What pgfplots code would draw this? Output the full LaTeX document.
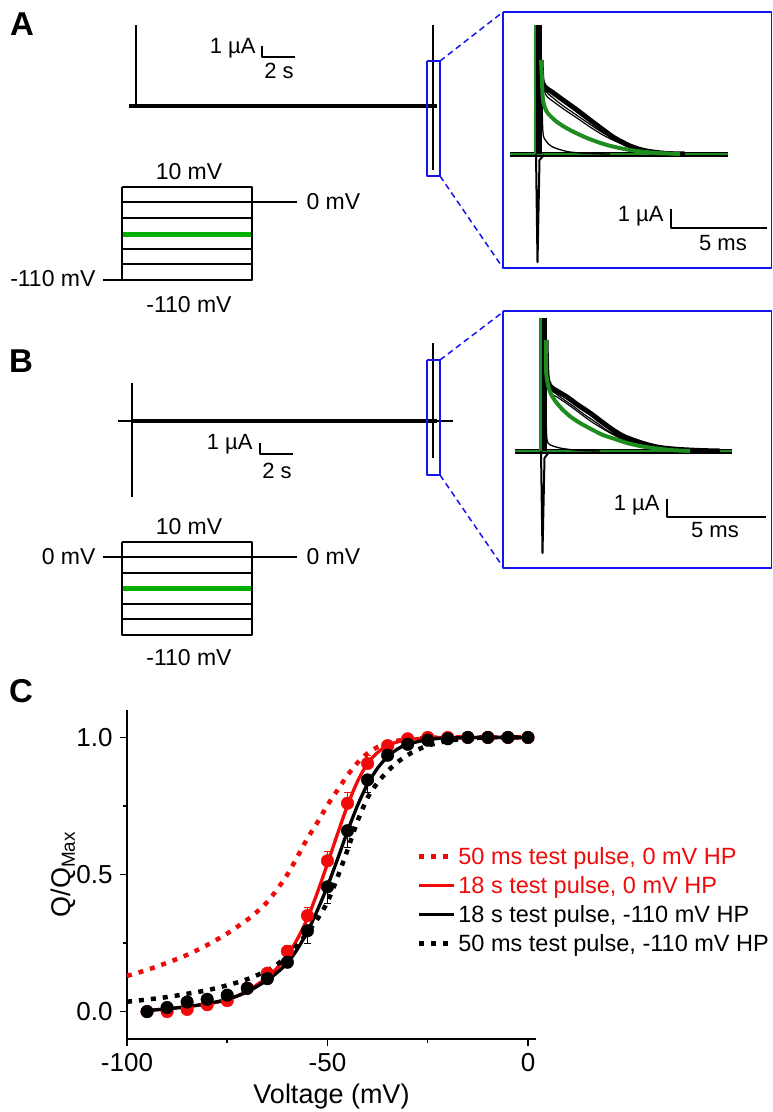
\documentclass[border=0pt]{standalone}
\usepackage{pgfplots}
\pgfplotsset{compat=1.18}
\usepackage{fontspec}
\setmainfont{Liberation Sans}
\definecolor{protgreen}{RGB}{0,175,0}
\definecolor{tracegreen}{RGB}{30,140,30}
\definecolor{zoomblue}{RGB}{20,20,240}
\definecolor{fitred}{RGB}{240,10,10}
\newcommand\fs[1]{\fontsize{#1}{#1}\selectfont}

\begin{document}
\begin{tikzpicture}
\useasboundingbox (0,0) rectangle (773pt,-1112pt);

% ---------- panels A and B: recordings and voltage protocols (drawn in pixel units) ----------
\begin{axis}[at={(0,0)}, anchor=north west, scale only axis,
  width=773pt, height=1112pt, xmin=0, xmax=773, ymin=0, ymax=1112,
  y dir=reverse, axis lines=none, clip=false, no markers,
  every axis plot/.append style={line join=round}]

% panel labels
\node[font=\fs{33}\bfseries] at (axis cs:22,24) {A};
\node[font=\fs{33}\bfseries] at (axis cs:21,361) {B};
\node[font=\fs{33}\bfseries] at (axis cs:21,691) {C};

% ===== A: 18 s test pulse from -110 mV =====
\addplot[black, line width=4.5pt] coordinates {(129,106) (437,106)};
\addplot[black, line width=1.8pt] coordinates {(136,25) (136,106)};
\addplot[black, line width=1.8pt] coordinates {(433,25) (433,170)};
% zoom window and guides
\addplot[zoomblue, line width=1.3pt] coordinates {(427,61) (440,61) (440,176) (427,176) (427,61)};
\addplot[zoomblue, line width=1.5pt, dash pattern=on 6pt off 4pt] coordinates {(440,61) (503,12)};
\addplot[zoomblue, line width=1.5pt, dash pattern=on 6pt off 4pt] coordinates {(440,176) (503,268)};
\addplot[zoomblue, line width=1.6pt] coordinates {(503,12) (771.5,12) (771.5,268) (503,268) (503,12)};
% scale bar
\addplot[black, line width=1.5pt] coordinates {(262,46) (262,57) (295,57)};
\node[anchor=east, font=\fs{22}] at (axis cs:259,48) {1 µA};
\node[font=\fs{22}] at (axis cs:279,71) {2 s};
% protocol
\addplot[black, line width=2pt] coordinates {(122,187) (252,187) (252,280) (122,280) (122,187)};
\addplot[black, line width=2pt] coordinates {(122,202) (297,202)};
\addplot[black, line width=2pt] coordinates {(122,218) (252,218)};
\addplot[protgreen, line width=5pt] coordinates {(123,234) (251,234)};
\addplot[black, line width=2pt] coordinates {(122,249) (252,249)};
\addplot[black, line width=2pt] coordinates {(122,264) (252,264)};
\addplot[black, line width=2pt] coordinates {(103,280) (122,280)};
\node[font=\fs{23}] at (axis cs:189,172) {10 mV};
\node[anchor=west, font=\fs{23}] at (axis cs:303,202) {0 mV};
\node[anchor=east, font=\fs{23}] at (axis cs:99,279) {-110 mV};
\node[font=\fs{23}] at (axis cs:189,305) {-110 mV};

% A inset: charge movement traces
\addplot[black, line width=5pt] coordinates {(510,154) (728,154)};
\addplot[tracegreen, line width=1.5pt] coordinates {(510,154) (728,154)};
\addplot[black, line width=2pt] coordinates {(536,154) (537.5,262) (539.5,160) (544,155)};
\addplot[tracegreen, line width=3pt] coordinates {(535,154) (535,25)};
\addplot[black, line width=6pt] coordinates {(539,154) (539,25)};
\addplot[black, line width=5pt, smooth] coordinates {(541,60) (542,80) (545,87) (552,92) (563,100) (577,110) (590,120) (602,129) (613,137) (622,142) (630,146) (642,150) (653,152) (667,153.5) (685,154)};
\addplot[black, line width=1.2pt, smooth] coordinates {(542,75) (545,90) (552,97) (562,105) (575,114) (588,123) (600,131) (612,138) (623,144) (635,149) (648,152) (662,153.5) (680,154)};
\addplot[black, line width=1.2pt, smooth] coordinates {(542,80) (546,95) (554,102) (565,110) (577,118) (590,127) (603,135) (615,141) (627,146) (640,150) (653,152.5) (670,154)};
\addplot[black, line width=1.3pt, smooth] coordinates {(542,100) (543,133) (546,141) (551,146) (558,149) (570,152) (590,153.5) (610,154)};
\addplot[tracegreen, line width=4pt, smooth] coordinates {(541,60) (542,80) (543,100) (547,112) (557,122) (570,130) (587,138) (607,145) (630,150) (653,152.7) (680,154)};
\addplot[black, line width=1.5pt] coordinates {(671,209) (671,228) (767,228)};
\node[anchor=east, font=\fs{22}] at (axis cs:667,216) {1 µA};
\node[font=\fs{22}] at (axis cs:723,243) {5 ms};

% ===== B: 18 s test pulse from 0 mV =====
\addplot[black, line width=2pt] coordinates {(118,421) (453,421)};
\addplot[black, line width=3.5pt] coordinates {(133,421) (437,421)};
\addplot[black, line width=2pt] coordinates {(132,383) (132,497)};
\addplot[black, line width=2pt] coordinates {(433,343) (433,458)};
\addplot[zoomblue, line width=1.3pt] coordinates {(427,360) (440,360) (440,475) (427,475) (427,360)};
\addplot[zoomblue, line width=1.5pt, dash pattern=on 6pt off 4pt] coordinates {(440,360) (503,312)};
\addplot[zoomblue, line width=1.5pt, dash pattern=on 6pt off 4pt] coordinates {(440,475) (503,567)};
\addplot[zoomblue, line width=1.6pt] coordinates {(503,311) (771.5,311) (771.5,568) (503,568) (503,311)};
\addplot[black, line width=1.5pt] coordinates {(260,443) (260,454) (293,454)};
\node[anchor=east, font=\fs{22}] at (axis cs:256,444) {1 µA};
\node[font=\fs{22}] at (axis cs:277,471) {2 s};
% protocol
\addplot[black, line width=2pt] coordinates {(122,542) (252,542) (252,635) (122,635) (122,542)};
\addplot[black, line width=2pt] coordinates {(103,557) (297,557)};
\addplot[black, line width=2pt] coordinates {(122,573) (252,573)};
\addplot[protgreen, line width=5pt] coordinates {(123,588) (251,588)};
\addplot[black, line width=2pt] coordinates {(122,604) (252,604)};
\addplot[black, line width=2pt] coordinates {(122,619) (252,619)};
\node[font=\fs{23}] at (axis cs:189,527) {10 mV};
\node[anchor=east, font=\fs{23}] at (axis cs:99,557) {0 mV};
\node[anchor=west, font=\fs{23}] at (axis cs:303,557) {0 mV};
\node[font=\fs{23}] at (axis cs:189,658) {-110 mV};

% B inset
\addplot[black, line width=5pt] coordinates {(515,451) (732,451)};
\addplot[tracegreen, line width=1.5pt] coordinates {(515,451) (732,451)};
\addplot[black, line width=2pt] coordinates {(541,451) (542.5,553) (544.5,458) (549,452)};
\addplot[tracegreen, line width=3pt] coordinates {(540.5,451) (540.5,318)};
\addplot[black, line width=5pt] coordinates {(544,451) (544,318)};
\addplot[black, line width=5pt, smooth] coordinates {(546,340) (547,375) (550,386) (557,391) (567,397) (578,405) (590,413) (602,422) (613,430) (623,436) (633,440) (645,444) (657,447) (668,448.5) (680,449.5) (700,450.5) (720,451)};
\addplot[black, line width=1.2pt, smooth] coordinates {(546,370) (549,388) (555,393) (563,399) (573,406) (585,415) (597,423) (608,431) (620,437) (632,442) (643,445) (655,448) (670,450) (690,451)};
\addplot[black, line width=1.2pt, smooth] coordinates {(546,375) (550,392) (557,397) (566,403) (577,411) (589,420) (600,427) (612,434) (624,440) (636,444) (648,447) (662,449.5) (680,451)};
\addplot[black, line width=1.3pt, smooth] coordinates {(546,400) (546.5,433) (548,443) (553,446) (560,448) (570,449.5) (580,450.5) (600,451)};
\addplot[tracegreen, line width=4pt, smooth] coordinates {(546,340) (546,370) (548,385) (551,394) (556,402) (563,410) (571,417) (580,423) (591,429) (603,435) (615,439) (627,443) (640,446) (653,448) (670,450) (690,451)};
\addplot[black, line width=1.5pt] coordinates {(667,499) (667,517) (766,517)};
\node[anchor=east, font=\fs{22}] at (axis cs:663,505) {1 µA};
\node[font=\fs{22}] at (axis cs:715,530) {5 ms};
\end{axis}

% ---------- panel C: normalized charge versus voltage ----------
\begin{axis}[at={(127pt,-1039pt)}, anchor=south west, scale only axis,
  width=409pt, height=329pt,
  xmin=-100, xmax=2, ymin=-0.1, ymax=1.1,
  axis x line*=bottom, axis y line*=left,
  axis line style={-, line width=1.6pt},
  xtick={-100,-50,0}, xticklabels={-100,-50,0},
  minor xtick={-75,-25},
  ytick={0,0.5,1}, yticklabels={0.0,0.5,1.0},
  minor ytick={0.25,0.75},
  tick align=outside, major tick length=7pt, minor tick length=4pt,
  tick style={black, line width=1.5pt},
  ticklabel style={font=\fs{26}},
  xticklabel style={yshift=-4pt},
  yticklabel style={xshift=-4pt},
  xlabel={Voltage (mV)}, ylabel={Q/Q\textsubscript{Max}},
  label style={font=\fs{27}},
  xlabel style={yshift=-5pt},
  ylabel style={yshift=-6pt},
  clip=false,
  legend cell align=left,
  legend style={at={(axis cs:-28.5,0.615)}, anchor=north west, draw=none, fill=none,
    font=\fs{23.5}, row sep=6.5pt, nodes={inner sep=2pt}},
  legend image code/.code={\draw[#1] (0pt,0pt) -- (35pt,0pt);},
  every axis plot/.append style={line cap=butt}]

% 18 s test pulse, 0 mV HP (mean and SEM)
\addplot[only marks, mark=*, mark size=6.3pt, color=fitred, forget plot,
  error bars/.cd, y dir=plus, y explicit,
  error bar style={line width=1pt}, error mark options={rotate=90, mark size=3.5pt, line width=1pt}]
  table[x=v, y=q, y error=e] {
 v     q      e
-95   0.000  0.00
-90   0.000  0.00
-85   0.008  0.00
-80   0.025  0.00
-75   0.040  0.00
-70   0.085  0.01
-65   0.140  0.01
-60   0.220  0.02
-55   0.350  0.03
-50   0.550  0.035
-45   0.760  0.04
-40   0.905  0.03
-35   0.970  0.01
-30   0.995  0.00
-25   1.000  0.00
-20   1.000  0.00
-15   1.000  0.00
-10   1.000  0.00
-5    1.000  0.00
0     1.000  0.00
};
% 18 s test pulse, -110 mV HP (mean and SEM)
\addplot[only marks, mark=*, mark size=6.3pt, color=black, forget plot,
  error bars/.cd, y dir=minus, y explicit,
  error bar style={line width=1pt}, error mark options={rotate=90, mark size=3.5pt, line width=1pt}]
  table[x=v, y=q, y error=e] {
 v     q      e
-95   0.000  0.00
-90   0.015  0.00
-85   0.035  0.00
-80   0.045  0.00
-75   0.060  0.00
-70   0.085  0.01
-65   0.120  0.01
-60   0.180  0.02
-55   0.295  0.045
-50   0.455  0.06
-45   0.660  0.06
-40   0.845  0.045
-35   0.935  0.02
-30   0.975  0.00
-25   0.990  0.00
-20   0.995  0.00
-15   1.000  0.00
-10   1.000  0.00
-5    1.000  0.00
0     1.000  0.00
};

% fitted curves
\addplot[fitred, line width=4.5pt, dash pattern=on 5pt off 7pt, smooth] coordinates {
(-100,0.130) (-95,0.152) (-90,0.178) (-85,0.207) (-80,0.243) (-75,0.285) (-70,0.335)
(-67.5,0.365) (-65,0.400) (-62.5,0.447) (-60,0.500) (-57.5,0.565) (-55,0.632) (-52.5,0.690)
(-50,0.753) (-47.5,0.808) (-45,0.862) (-42.5,0.908) (-40,0.942) (-37.5,0.965) (-35,0.980)
(-32.5,0.988) (-30,0.993) (-25,0.998) (-20,1.000) (-10,1.000) (0,1.000)};
\addlegendentry{\textcolor{fitred}{50 ms test pulse, 0 mV HP}}
\addplot[fitred, line width=3.3pt, smooth] coordinates {
(-95,0.004) (-90,0.010) (-85,0.018) (-80,0.028) (-75,0.043) (-70,0.075) (-65,0.125)
(-62.5,0.160) (-60,0.205) (-57.5,0.265) (-55,0.340) (-52.5,0.435) (-50,0.540) (-47.5,0.648)
(-45,0.752) (-42.5,0.840) (-40,0.905) (-37.5,0.945) (-35,0.970) (-32.5,0.984) (-30,0.992)
(-25,0.998) (-20,1.000) (-10,1.000) (0,1.000)};
\addlegendentry{\textcolor{fitred}{18 s test pulse, 0 mV HP}}
\addplot[black, line width=3.3pt, smooth] coordinates {
(-95,0.004) (-90,0.010) (-85,0.018) (-80,0.029) (-75,0.045) (-70,0.072) (-65,0.115)
(-62.5,0.143) (-60,0.178) (-57.5,0.228) (-55,0.292) (-52.5,0.370) (-50,0.458) (-47.5,0.556)
(-45,0.658) (-42.5,0.752) (-40,0.830) (-37.5,0.888) (-35,0.930) (-32.5,0.958) (-30,0.975)
(-25,0.992) (-20,0.998) (-10,1.000) (0,1.000)};
\addlegendentry{18 s test pulse, -110 mV HP}
\addplot[black, line width=4.5pt, dash pattern=on 5pt off 7pt, smooth] coordinates {
(-100,0.036) (-95,0.044) (-90,0.053) (-85,0.065) (-80,0.078) (-75,0.096) (-70,0.118)
(-65,0.150) (-62.5,0.173) (-60,0.203) (-57.5,0.243) (-55,0.288) (-52.5,0.338) (-50,0.400)
(-47.5,0.490) (-45,0.590) (-42.5,0.695) (-40,0.780) (-37.5,0.835) (-35,0.877) (-32.5,0.910)
(-30,0.936) (-27.5,0.955) (-25,0.970) (-20,0.988) (-15,0.996) (-10,1.000) (0,1.000)};
\addlegendentry{50 ms test pulse, -110 mV HP}
\end{axis}
\end{tikzpicture}
\end{document}
